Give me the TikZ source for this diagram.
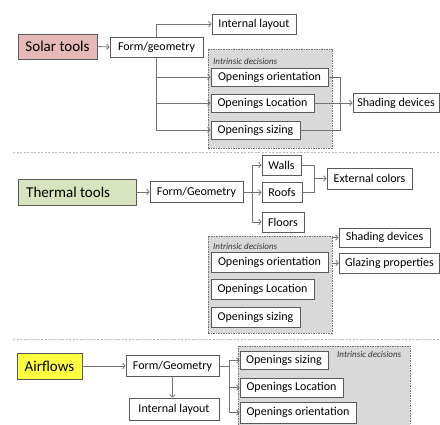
\documentclass[tikz,border=0pt]{standalone}
\usepackage{fontspec}
\setmainfont{Carlito}
\usetikzlibrary{arrows.meta}
\definecolor{solarfill}{RGB}{230,184,183}
\definecolor{thermfill}{RGB}{215,228,189}
\definecolor{airfill}{RGB}{255,255,64}
\definecolor{grpfill}{RGB}{217,217,217}
\definecolor{edgecol}{RGB}{90,90,90}
\definecolor{linecol}{RGB}{115,115,115}
\tikzset{
  box/.style={draw=edgecol, line width=0.8pt, fill=white, inner sep=0pt, font=\fontsize{12}{14}\selectfont},
  bigbox/.style={box, font=\fontsize{15}{17}\selectfont},
  grp/.style={draw=linecol, line width=0.7pt, dash pattern=on 1.5pt off 1pt, fill=grpfill, inner sep=0pt},
  conn/.style={draw=linecol, line width=0.8pt},
  arr/.style={conn, -{Straight Barb[length=2.5pt,width=5.5pt]}},
  sep/.style={draw=gray!55, line width=0.8pt, dash pattern=on 2pt off 1.5pt},
  intr/.style={font=\fontsize{9}{10}\selectfont\itshape, text=black!80, inner sep=0pt, anchor=west}
}
\begin{document}
\begin{tikzpicture}[x=1pt,y=-1pt]
\useasboundingbox (0,0) rectangle (440,425);
% ---------- Solar ----------
\node[grp, minimum width=124pt, minimum height=99pt] (g1) at (270,98.5) {};
\node[intr] (g1t) at (213,61) {Intrinsic decisions};
\node[bigbox, fill=solarfill, minimum width=79pt, minimum height=25pt] (solar) at (57.5,46.5) {Solar tools};
\node[box, minimum width=93pt, minimum height=20pt] (sform) at (156.5,47) {Form/geometry};
\node[box, minimum width=84pt, minimum height=20pt] (sint) at (254,24) {Internal layout};
\node[box, minimum width=117pt, minimum height=18pt] (sor) at (269.5,77) {Openings orientation};
\node[box, minimum width=103pt, minimum height=18pt] (sloc) at (262.5,103) {Openings Location};
\node[box, minimum width=89pt, minimum height=18pt] (ssiz) at (255.5,130) {Openings sizing};
\node[box, minimum width=86pt, minimum height=19pt] (sshade) at (396,103) {Shading devices};
\coordinate (smerge) at (340,103);
\draw[arr] (solar.east) -- (sform.west);
\draw[arr] (sform.north) |- (sint.west);
\draw[arr] (sform.south) |- (sor.west);
\draw[arr] (sform.south) |- (sloc.west);
\draw[arr] (sform.south) |- (ssiz.west);
\draw[conn] (sor.east) -| (smerge);
\draw[conn] (ssiz.east) -| (smerge);
\draw[arr] (sloc.east) -- (sshade.west);
% separator
\coordinate (sepA1) at (13,152);
\coordinate (sepA2) at (440,152);
\draw[sep] (sepA1) -- (sepA2);
% ---------- Thermal ----------
\node[grp, minimum width=124pt, minimum height=97pt] (g2) at (270,284.5) {};
\node[intr] (g2t) at (213,246) {Intrinsic decisions};
\node[bigbox, fill=thermfill, minimum width=118pt, minimum height=26pt] (thermal) at (77,192) {};
\node[font=\fontsize{15}{17}\selectfont, anchor=west, inner sep=0pt] (thermalt) at (26,192) {Thermal tools};
\node[box, minimum width=93pt, minimum height=21pt] (tform) at (196.5,192) {Form/Geometry};
\node[box, minimum width=39pt, minimum height=20pt] (walls) at (281.5,165) {Walls};
\node[box, minimum width=40pt, minimum height=20pt] (roofs) at (282,192.5) {Roofs};
\node[box, minimum width=42pt, minimum height=20pt] (floors) at (283,222) {Floors};
\node[box, minimum width=85pt, minimum height=21pt] (ext) at (369.5,178.5) {External colors};
\coordinate (tsplit) at (252,192);
\coordinate (tmerge) at (314,178.5);
\draw[arr] (thermal.east) -- (tform.west);
\draw[conn] (tform.east) -- (tsplit);
\draw[arr] (tsplit) |- (walls.west);
\draw[arr] (tsplit) |- (roofs.west);
\draw[arr] (tsplit) |- (floors.west);
\draw[conn] (walls.east) -| (tmerge);
\draw[conn] (roofs.east) -| (tmerge);
\draw[arr] (tmerge) -- (ext.west);
\node[box, minimum width=117pt, minimum height=20pt] (tor) at (269.5,262) {Openings orientation};
\node[box, minimum width=103pt, minimum height=20pt] (tloc) at (262.5,289) {Openings Location};
\node[box, minimum width=89pt, minimum height=20pt] (tsiz) at (255.5,317.5) {Openings sizing};
\node[box, minimum width=91pt, minimum height=19pt] (tshade) at (384.5,237.5) {Shading devices};
\node[box, minimum width=100.5pt, minimum height=20pt] (tglaz) at (389.5,263) {Glazing properties};
\draw[arr] (g2.east |- tshade.west) -- (tshade.west);
\draw[arr] (g2.east |- tglaz.west) -- (tglaz.west);
% separator
\coordinate (sepB1) at (13,339);
\coordinate (sepB2) at (440,339);
\draw[sep] (sepB1) -- (sepB2);
% ---------- Airflows ----------
\node[grp, minimum width=172pt, minimum height=84pt] (g3) at (324,388) {};
\node[intr] (g3t) at (337,354) {Intrinsic decisions};
\node[bigbox, fill=airfill, minimum width=65pt, minimum height=26pt] (air) at (49.5,366) {Airflows};
\node[box, minimum width=93pt, minimum height=21pt] (aform) at (172.5,366) {Form/Geometry};
\node[box, minimum width=90pt, minimum height=22pt] (aint) at (174,409) {Internal layout};
\node[box, minimum width=88pt, minimum height=18pt] (asiz) at (284,360.5) {Openings sizing};
\node[box, minimum width=103pt, minimum height=19pt] (aloc) at (291.5,387.5) {Openings Location};
\node[box, minimum width=116pt, minimum height=21pt] (aor) at (298,412.5) {Openings orientation};
\coordinate (asplit) at (229,366);
\draw[arr] (air.east) -- (aform.west);
\draw[arr] (aform.south) -- (aform.south |- aint.north);
\draw[conn] (aform.east) -- (asplit);
\draw[arr] (asplit) |- (asiz.west);
\draw[arr] (asplit) |- (aloc.west);
\draw[arr] (asplit) |- (aor.west);
\end{tikzpicture}
\end{document}
